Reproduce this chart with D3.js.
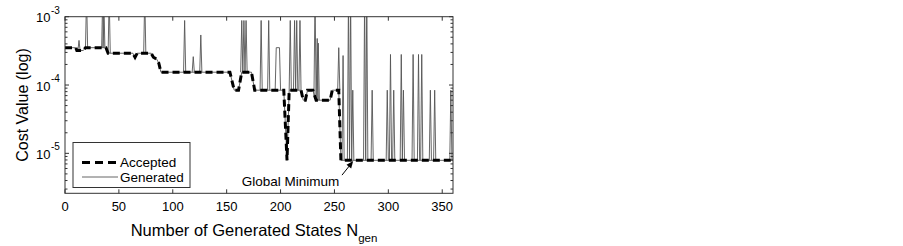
<!DOCTYPE html>
<html>
<head>
    <script src="https://d3js.org/d3.v7.min.js"></script>
    <style>
        body { margin: 0; background: #fff; }
        text { font-family: "Liberation Sans", Arial, sans-serif; fill: #000; }
    </style>
</head>
<body>
    <svg width="903" height="246"></svg>

    <script>
        const svg = d3.select("svg");

        // Tick values
        const xTicks = [0, 50, 100, 150, 200, 250, 300, 350];
        const yTicks = [1e-3, 1e-4, 1e-5];

        // Accepted cost (step changes only), [state index, cost]
        const accepted = [
            [0, 3.52e-4], [10, 3.52e-4], [11, 3.2e-4], [17, 3.2e-4], [19, 3.52e-4],
            [38, 3.52e-4], [40, 2.92e-4], [63, 2.92e-4], [65, 2.55e-4], [67, 2.92e-4],
            [80, 2.92e-4], [82, 2.55e-4], [85, 2.4e-4], [87, 2.1e-4], [89, 1.54e-4],
            [153, 1.54e-4], [157, 8.4e-5], [161, 8.4e-5], [164, 1.54e-4], [173, 1.54e-4],
            [176, 8.4e-5], [203, 8.4e-5], [206, 7.9e-6], [208, 8.4e-5], [219, 8.4e-5],
            [221, 6.0e-5], [223, 6.0e-5], [225, 8.4e-5], [230, 8.4e-5], [233, 6.0e-5],
            [246, 6.0e-5], [248, 8.4e-5], [254, 8.4e-5], [256, 7.9e-6], [360, 7.9e-6]
        ];

        // Generated states that jump off the accepted curve: [from, to, base, peak]
        const spikes = [
            [13, 13, 3.2e-4, 4.5e-4], [20, 20, 3.52e-4, 2e-3], [35, 35, 3.52e-4, 2e-3],
            [36, 36, 3.52e-4, 2e-3], [41, 41, 2.92e-4, 2e-3], [74, 74, 2.92e-4, 2e-3],
            [111, 111, 1.54e-4, 8.8e-4], [119, 119, 1.54e-4, 2.6e-4], [126, 126, 1.54e-4, 5.4e-4],
            [164, 164, 1.54e-4, 8.8e-4], [166, 166, 1.54e-4, 8.8e-4], [168, 168, 1.54e-4, 8.8e-4],
            [182, 182, 8.4e-5, 8.8e-4], [189, 189, 8.4e-5, 8.8e-4], [196, 199, 8.4e-5, 3.52e-4],
            [209, 209, 8.4e-5, 8.8e-4], [213, 213, 8.4e-5, 8.8e-4], [215, 215, 8.4e-5, 8.8e-4],
            [218, 218, 8.4e-5, 8.8e-4], [232, 232, 7.0e-5, 2e-3], [234, 234, 6.0e-5, 4.8e-4],
            [235, 235, 6.0e-5, 4.1e-4], [254, 254, 8.4e-5, 3.52e-4], [258, 258, 7.9e-6, 2.7e-4],
            [263, 263, 7.9e-6, 2e-3], [265, 265, 7.9e-6, 2e-3], [267, 267, 7.9e-6, 8.4e-5],
            [278, 278, 7.9e-6, 2e-3], [280, 280, 7.9e-6, 2e-3], [285, 285, 7.9e-6, 8.4e-5],
            [299, 299, 7.9e-6, 8.4e-5], [302, 302, 7.9e-6, 2.8e-4], [305, 305, 7.9e-6, 8.4e-5],
            [312, 312, 7.9e-6, 2.8e-4], [314, 314, 7.9e-6, 8.4e-5], [323, 323, 7.9e-6, 2.8e-4],
            [328, 328, 7.9e-6, 2.8e-4], [331, 331, 7.9e-6, 2.8e-4], [339, 339, 7.9e-6, 8.4e-5],
            [343, 343, 7.9e-6, 8.4e-5], [358, 358, 7.9e-6, 8.4e-5]
        ];

        const plot = { left: 65, right: 453, top: 16.7, bottom: 193.3 };

        const x = d3.scaleLinear().domain([0, 360]).range([plot.left, plot.right]);
        const y = d3.scaleLog().domain([2.6e-6, 1e-3]).range([plot.bottom, plot.top]);

        svg.append("defs").append("clipPath").attr("id", "clip")
            .append("rect")
            .attr("x", plot.left).attr("y", plot.top)
            .attr("width", plot.right - plot.left).attr("height", plot.bottom - plot.top);

        const line = d3.line().x(d => x(d[0])).y(d => y(d[1]));
        const data = svg.append("g").attr("clip-path", "url(#clip)");

        // Generated (thin grey) - follows accepted, plus spikes
        data.append("path")
            .attr("d", line(accepted))
            .attr("fill", "none").attr("stroke", "#555").attr("stroke-width", 0.9);

        data.selectAll(".spike")
            .data(spikes)
            .enter().append("path")
            .attr("class", "spike")
            .attr("d", s => line([[s[0] - 1, s[2]], [s[0], s[3]], [s[1], s[3]], [s[1] + 1, s[2]]]))
            .attr("fill", "none").attr("stroke", "#555").attr("stroke-width", 0.9);

        // Accepted (thick dashed)
        data.append("path")
            .attr("d", line(accepted))
            .attr("fill", "none").attr("stroke", "#000")
            .attr("stroke-width", 3).attr("stroke-dasharray", "7,4");

        // Axes box and ticks (inward, MATLAB style)
        const axis = svg.append("g").attr("stroke", "#333").attr("stroke-width", 1);
        axis.append("rect")
            .attr("x", plot.left).attr("y", plot.top)
            .attr("width", plot.right - plot.left).attr("height", plot.bottom - plot.top)
            .attr("fill", "none");

        xTicks.forEach(t => {
            axis.append("line").attr("x1", x(t)).attr("x2", x(t))
                .attr("y1", plot.bottom).attr("y2", plot.bottom - 4);
            axis.append("line").attr("x1", x(t)).attr("x2", x(t))
                .attr("y1", plot.top).attr("y2", plot.top + 4);
        });

        const minor = [];
        [1e-6, 1e-5, 1e-4].forEach(dec => d3.range(2, 10).forEach(k => {
            const v = dec * k;
            if (v >= 2.6e-6 && v <= 1e-3) minor.push(v);
        }));
        minor.forEach(v => {
            axis.append("line").attr("x1", plot.left).attr("x2", plot.left + 2.5)
                .attr("y1", y(v)).attr("y2", y(v));
            axis.append("line").attr("x1", plot.right).attr("x2", plot.right - 2.5)
                .attr("y1", y(v)).attr("y2", y(v));
        });
        yTicks.forEach(v => {
            axis.append("line").attr("x1", plot.left).attr("x2", plot.left + 4)
                .attr("y1", y(v)).attr("y2", y(v));
            axis.append("line").attr("x1", plot.right).attr("x2", plot.right - 4)
                .attr("y1", y(v)).attr("y2", y(v));
        });

        // Tick labels
        svg.selectAll(".xtick")
            .data(xTicks)
            .enter().append("text")
            .attr("class", "xtick")
            .attr("x", d => x(d)).attr("y", 210.5)
            .attr("text-anchor", "middle").attr("font-size", "13px")
            .text(d => d);

        yTicks.forEach(v => {
            const yy = y(v) + 5.5;
            svg.append("text").attr("x", plot.left - 14.5).attr("y", yy)
                .attr("text-anchor", "end").attr("font-size", "13px").text("10");
            svg.append("text").attr("x", plot.left - 14).attr("y", yy - 8.5)
                .attr("font-size", "10px").text("-" + Math.round(-Math.log10(v)));
        });

        // Axis titles
        const xl = svg.append("text")
            .attr("x", 254).attr("y", 236)
            .attr("text-anchor", "middle").attr("font-size", "16.5px");
        xl.append("tspan").text("Number of Generated States N");
        xl.append("tspan").attr("dy", 5.5).attr("font-size", "11.5px").text("gen");

        svg.append("text")
            .attr("transform", "translate(27.5,105) rotate(-90)")
            .attr("text-anchor", "middle").attr("font-size", "16px")
            .text("Cost Value (log)");

        // Annotation
        const note = { text: "Global Minimum", n: 164, v: 3.36e-6, tail: [257, 4.8e-6], tip: [267.4, 7.7e-6] };
        svg.append("text")
            .attr("x", x(note.n)).attr("y", y(note.v))
            .attr("font-size", "13.5px").text(note.text);

        const tx = x(note.tip[0]), ty = y(note.tip[1]);
        const ang = Math.atan2(ty - y(note.tail[1]), tx - x(note.tail[0]));
        svg.append("line")
            .attr("x1", x(note.tail[0])).attr("y1", y(note.tail[1]))
            .attr("x2", tx - 4 * Math.cos(ang)).attr("y2", ty - 4 * Math.sin(ang))
            .attr("stroke", "#000").attr("stroke-width", 1);
        const head = [[0, 0], [-7, -3], [-7, 3]].map(p => [
            tx + p[0] * Math.cos(ang) - p[1] * Math.sin(ang),
            ty + p[0] * Math.sin(ang) + p[1] * Math.cos(ang)
        ]);
        svg.append("polygon").attr("points", head.map(p => p.join(",")).join(" ")).attr("fill", "#000");

        // Legend
        const legend = svg.append("g").attr("transform", "translate(73,142.5)");
        legend.append("rect").attr("width", 117).attr("height", 45)
            .attr("fill", "#fff").attr("stroke", "#333").attr("stroke-width", 1);
        legend.append("line").attr("x1", 9).attr("x2", 45).attr("y1", 20).attr("y2", 20)
            .attr("stroke", "#000").attr("stroke-width", 3).attr("stroke-dasharray", "8,5");
        legend.append("line").attr("x1", 9).attr("x2", 45).attr("y1", 34.5).attr("y2", 34.5)
            .attr("stroke", "#555").attr("stroke-width", 0.9);
        legend.append("text").attr("x", 47).attr("y", 24.5).attr("font-size", "13.5px").text("Accepted");
        legend.append("text").attr("x", 47).attr("y", 39.5).attr("font-size", "13.5px").text("Generated");
    </script>
</body>
</html>
